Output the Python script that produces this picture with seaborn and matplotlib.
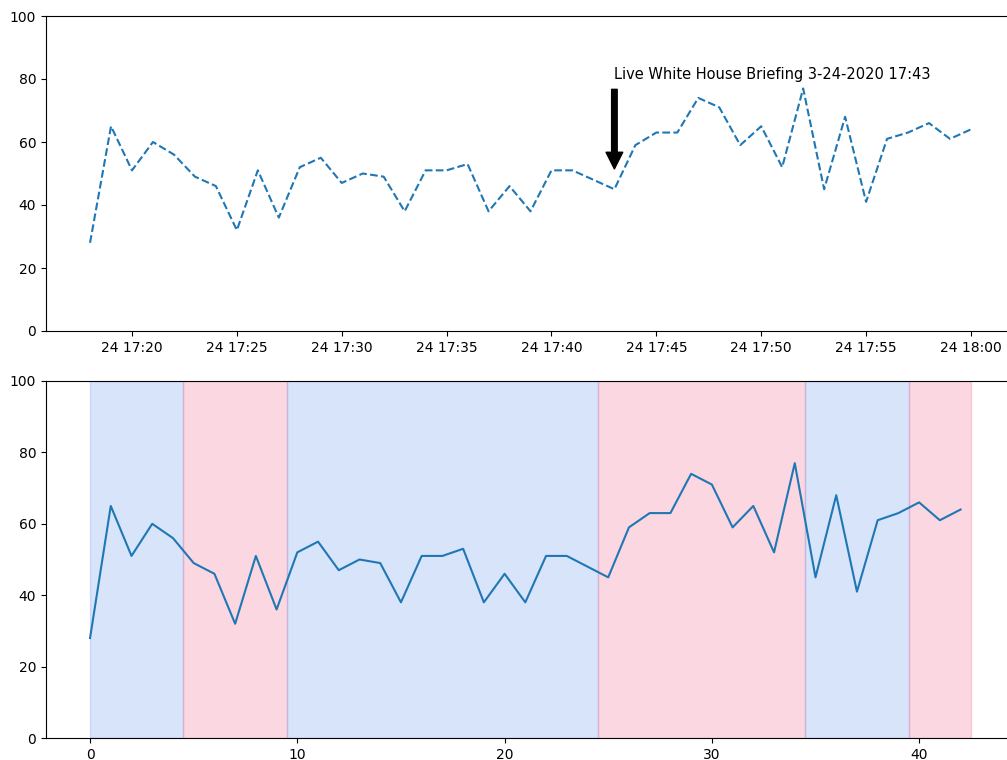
import numpy as np
import pandas as pd
import matplotlib
matplotlib.use("Agg")
import matplotlib.pyplot as plt
import matplotlib.dates as mdates
import seaborn as sns

# ---- data ----
start_time = "2020-03-24 17:18"
n_minutes = 43
values = [28, 65, 51, 60, 56, 49, 46, 32, 51, 36,
          52, 55, 47, 50, 49, 38, 51, 51, 53, 38,
          46, 38, 51, 51, 48, 45, 59, 63, 63, 74,
          71, 59, 65, 52, 77, 45, 68, 41, 61, 63,
          66, 61, 64]
span_edges = [0, 4.5, 9.5, 24.5, 34.5, 39.5, 42.5]
span_kinds = ["blue", "pink", "blue", "pink", "blue", "pink"]
event_time = "2020-03-24 17:43"
event_label = "Live White House Briefing 3-24-2020 17:43"
event_text_y = 80
event_arrow_y = 50

times = pd.date_range(start_time, periods=n_minutes, freq="min")
df = pd.DataFrame({"time": times, "idx": np.arange(n_minutes), "value": values})

span_colors = {"blue": "cornflowerblue", "pink": "#f3638f"}

fig = plt.figure(figsize=(10.07, 7.6), dpi=100)
W, H = 1007.0, 760.0
left = 46 / W
width = (1015 - 46) / W
ax1 = fig.add_axes([left, (H - 331) / H, width, (331 - 16) / H])
ax2 = fig.add_axes([left, (H - 738) / H, width, (738 - 381) / H])

# top chart
sns.lineplot(data=df, x="time", y="value", ax=ax1, linestyle="--", color="C0", linewidth=1.5)
ax1.set_ylim(0, 100)
ax1.xaxis.set_major_locator(mdates.MinuteLocator(byminute=range(0, 60, 5)))
ax1.xaxis.set_major_formatter(mdates.DateFormatter("%d %H:%M"))
ax1.set_xlabel("")
ax1.set_ylabel("")
ev = pd.Timestamp(event_time)
ax1.annotate(event_label, xy=(ev, event_arrow_y), xytext=(ev, event_text_y),
             arrowprops=dict(facecolor="black", shrink=0.05), fontsize=10.5)

# bottom chart
for a, b, k in zip(span_edges[:-1], span_edges[1:], span_kinds):
    ax2.axvspan(a, b, color=span_colors[k], alpha=0.25)
sns.lineplot(data=df, x="idx", y="value", ax=ax2, color="C0", linewidth=1.5)
ax2.set_ylim(0, 100)
ax2.set_xticks([0, 10, 20, 30, 40])
ax2.set_xlabel("")
ax2.set_ylabel("")

fig.savefig("out.png", dpi=100)
